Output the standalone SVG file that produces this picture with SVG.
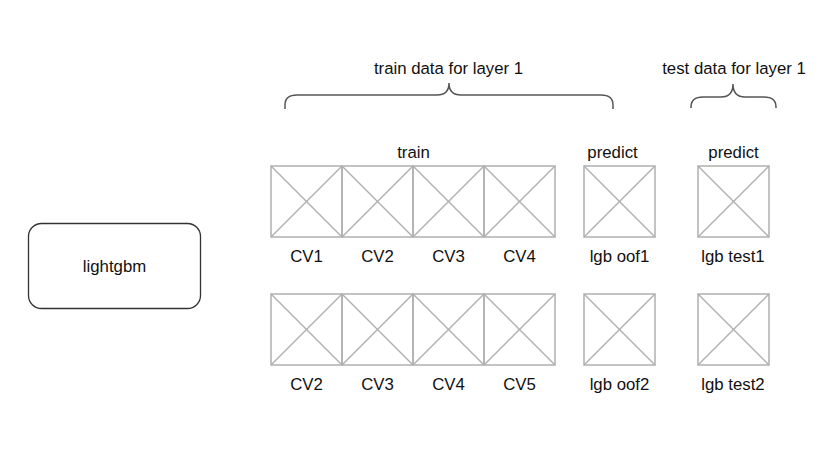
<svg xmlns="http://www.w3.org/2000/svg" xmlns:xlink="http://www.w3.org/1999/xlink" width="837" height="459" viewBox="0 0 837 459">
<style>
  text { font-family: "Liberation Sans", Arial, Helvetica, sans-serif; font-size: 16.8px; fill: #111111; text-anchor: middle; }
  .cell rect, .cell line { fill: none; stroke: #b0b0b0; stroke-width: 1.5; }
  .brace { fill: none; stroke: #555555; stroke-width: 1.5; }
  .model { fill: #ffffff; stroke: #333333; stroke-width: 1.3; }
</style>
<defs>
  <g id="xbox" class="cell">
    <rect x="0" y="0" width="71" height="71"/>
    <line x1="0" y1="0" x2="71" y2="71"/>
    <line x1="71" y1="0" x2="0" y2="71"/>
  </g>
</defs>
<rect width="837" height="459" fill="#ffffff"/>

<g id="lightgbm">
  <rect class="model" x="28.5" y="223.5" width="172" height="85" rx="13" ry="13"/>
  <text x="114.5" y="272">lightgbm</text>
</g>

<g id="connectors">
  <g id="brace-train">
    <path class="brace" d="M285,109 L285,105 Q285,95 297,95 L437,95 Q449,95 449,83 Q449,95 461,95 L601,95 Q613,95 613,105 L613,109"/>
    <text x="448.5" y="74">train data for layer 1</text>
  </g>
  <g id="brace-test">
    <path class="brace" d="M691,108 L691,107 Q691,97 703,97 L721,97 Q733,97 733,84 Q733,97 745,97 L764,97 Q776,97 776,107 L776,108"/>
    <text x="734" y="74">test data for layer 1</text>
  </g>
</g>

<g id="label-train"><text x="413.5" y="158">train</text></g>
<g id="label-predict-oof"><text x="612.5" y="158">predict</text></g>
<g id="label-predict-test"><text x="733.5" y="158">predict</text></g>

<g id="row1-cv1"><use xlink:href="#xbox" x="271" y="166"/><text x="306.5" y="262">CV1</text></g>
<g id="row1-cv2"><use xlink:href="#xbox" x="342" y="166"/><text x="377.5" y="262">CV2</text></g>
<g id="row1-cv3"><use xlink:href="#xbox" x="413" y="166"/><text x="448.5" y="262">CV3</text></g>
<g id="row1-cv4"><use xlink:href="#xbox" x="484" y="166"/><text x="519.5" y="262">CV4</text></g>
<g id="row1-oof"><use xlink:href="#xbox" x="584" y="166"/><text x="619.5" y="262">lgb oof1</text></g>
<g id="row1-test"><use xlink:href="#xbox" x="698" y="166"/><text x="733" y="262">lgb test1</text></g>

<g id="row2-cv2"><use xlink:href="#xbox" x="271" y="294"/><text x="306.5" y="390">CV2</text></g>
<g id="row2-cv3"><use xlink:href="#xbox" x="342" y="294"/><text x="377.5" y="390">CV3</text></g>
<g id="row2-cv4"><use xlink:href="#xbox" x="413" y="294"/><text x="448.5" y="390">CV4</text></g>
<g id="row2-cv5"><use xlink:href="#xbox" x="484" y="294"/><text x="519.5" y="390">CV5</text></g>
<g id="row2-oof"><use xlink:href="#xbox" x="584" y="294"/><text x="619.5" y="390">lgb oof2</text></g>
<g id="row2-test"><use xlink:href="#xbox" x="698" y="294"/><text x="733" y="390">lgb test2</text></g>
</svg>
